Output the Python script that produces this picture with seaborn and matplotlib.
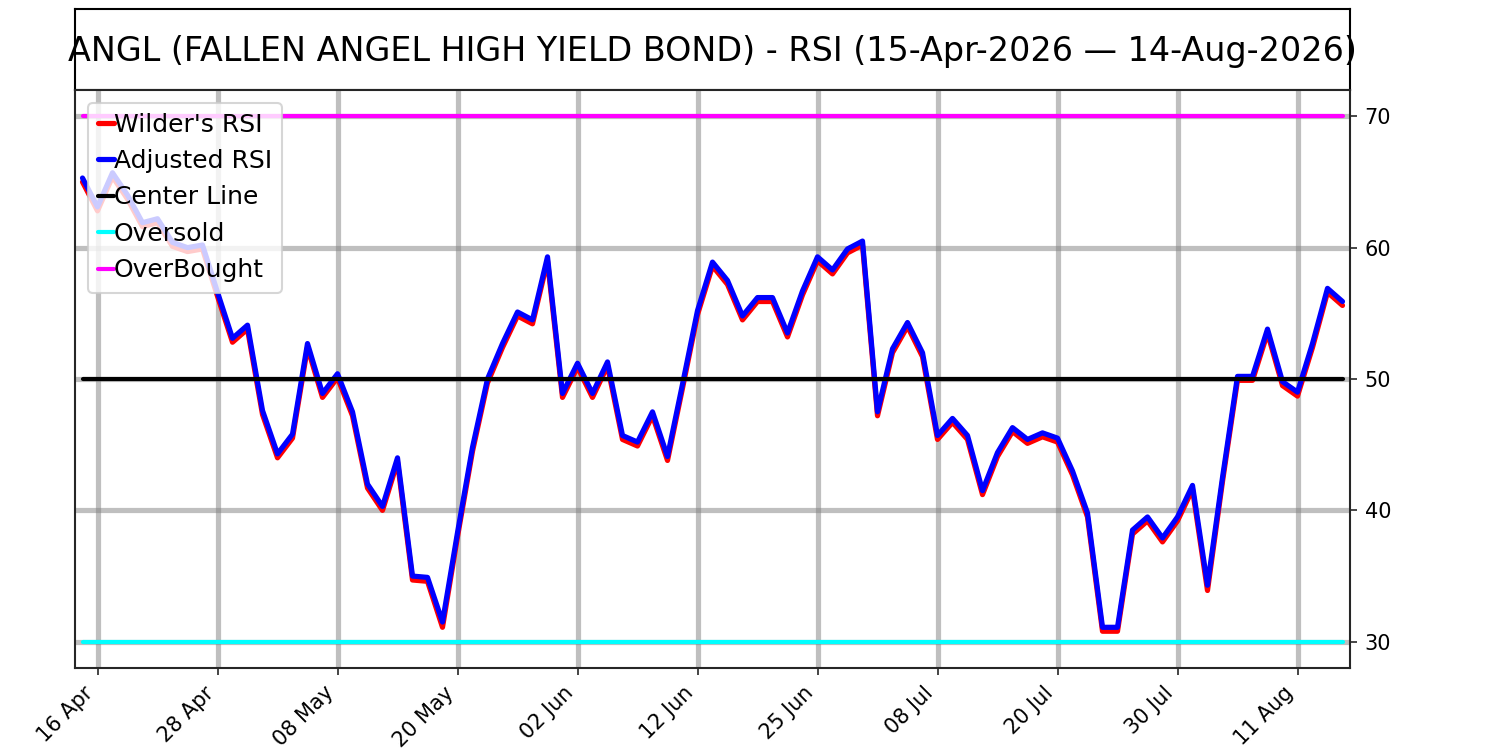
import matplotlib
matplotlib.use("Agg")
import matplotlib.pyplot as plt
import seaborn as sns
import numpy as np
import pandas as pd

# ---- data -------------------------------------------------------------
holidays = ["2026-05-25", "2026-06-19", "2026-07-03"]
dates = pd.bdate_range("2026-04-15", "2026-08-14", freq="C", holidays=holidays)

adjusted_rsi = [
    65.3, 63.1, 65.7, 64.0, 61.9, 62.2, 60.4, 60.0, 60.2, 56.6,
    53.1, 54.1, 47.6, 44.3, 45.8, 52.7, 48.9, 50.4, 47.5, 42.0,
    40.3, 44.0, 35.0, 34.9, 31.5, 38.3, 44.8, 50.0, 52.7, 55.1,
    54.5, 59.3, 48.9, 51.2, 48.9, 51.3, 45.7, 45.2, 47.5, 44.1,
    49.6, 55.2, 58.9, 57.5, 54.8, 56.2, 56.2, 53.5, 56.7, 59.3,
    58.3, 59.9, 60.5, 47.5, 52.3, 54.3, 52.0, 45.7, 47.0, 45.7,
    41.5, 44.4, 46.3, 45.4, 45.9, 45.5, 43.0, 39.8, 31.1, 31.1,
    38.5, 39.5, 37.9, 39.5, 41.9, 34.3, 42.5, 50.2, 50.2, 53.8,
    49.8, 49.0, 52.7, 56.9, 55.9,
]
wilders_rsi = [
    65.0, 62.8, 65.4, 63.7, 61.6, 61.9, 60.1, 59.7, 59.9, 56.3,
    52.8, 53.8, 47.3, 44.0, 45.5, 52.4, 48.6, 50.1, 47.2, 41.7,
    40.0, 43.7, 34.7, 34.6, 31.1, 38.0, 44.5, 49.7, 52.4, 54.8,
    54.2, 59.0, 48.6, 50.9, 48.6, 51.0, 45.4, 44.9, 47.2, 43.8,
    49.3, 54.9, 58.6, 57.2, 54.5, 55.9, 55.9, 53.2, 56.4, 59.0,
    58.0, 59.6, 60.2, 47.2, 52.0, 54.0, 51.7, 45.4, 46.7, 45.4,
    41.2, 44.1, 46.0, 45.1, 45.6, 45.2, 42.7, 39.5, 30.8, 30.8,
    38.2, 39.2, 37.6, 39.2, 41.6, 33.9, 42.2, 49.9, 49.9, 53.5,
    49.5, 48.7, 52.4, 56.6, 55.6,
]
center_level = 50
oversold_level = 30
overbought_level = 70
y_ticks = [30, 40, 50, 60, 70]

title = "ANGL (FALLEN ANGEL HIGH YIELD BOND) - RSI (15-Apr-2026 \u2014 14-Aug-2026)"

# ---- frame ------------------------------------------------------------
n = len(adjusted_rsi)
pos = np.arange(n)
df = pd.DataFrame({
    "pos": pos,
    "Wilder's RSI": wilders_rsi,
    "Adjusted RSI": adjusted_rsi,
    "Center Line": [center_level] * n,
    "Oversold": [oversold_level] * n,
    "OverBought": [overbought_level] * n,
})

sns.set_style("ticks")
plt.rcParams["font.family"] = ["DejaVu Sans"]

fig = plt.figure(figsize=(10, 5), dpi=150)
ax_t = fig.add_axes([0.05, 0.88, 0.85, 0.108])
ax = fig.add_axes([0.05, 0.1093, 0.85, 0.7707])

# title box
ax_t.set_xticks([])
ax_t.set_yticks([])
for s in ax_t.spines.values():
    s.set_color("black")
    s.set_linewidth(1.0)
ax_t.text(0.5, 0.48, title, ha="center", va="center", fontsize=16,
          color="black", transform=ax_t.transAxes)

# series
series = [
    ("Wilder's RSI", "red", 2.5),
    ("Adjusted RSI", "blue", 2.5),
    ("Center Line", "black", 2.0),
    ("Oversold", "cyan", 2.0),
    ("OverBought", "magenta", 2.0),
]
for name, col, lw in series:
    sns.lineplot(data=df, x="pos", y=name, color=col, linewidth=lw,
                 label=name, ax=ax, zorder=3)

ax.set_xlim(-0.5, n - 0.5)
ax.set_ylim(28, 72)
ax.yaxis.tick_right()
ax.set_yticks(y_ticks)
tick_pos = pos[1::8]
ax.set_xticks(tick_pos)
ax.set_xticklabels([dates[i].strftime("%d %b") for i in tick_pos],
                   rotation=45, ha="right", fontsize=10, color="black")
ax.tick_params(axis="y", labelsize=10, labelcolor="black")
ax.set_xlabel("")
ax.set_ylabel("")
ax.grid(True, color="gray", alpha=0.5, linewidth=2.5, zorder=0)
ax.set_axisbelow(True)
for s in ax.spines.values():
    s.set_linewidth(1.0)

leg = ax.legend(loc="upper left", fontsize=12, handlelength=0.65,
                handletextpad=0.0, labelspacing=0.5, frameon=True,
                labelcolor="black")

fig.savefig("out.png", dpi=150)
